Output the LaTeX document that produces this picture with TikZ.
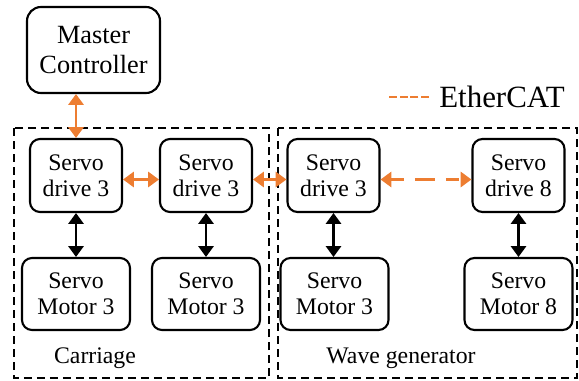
\documentclass[tikz,border=0pt]{standalone}
\usepackage{fontspec}
\setmainfont{Liberation Serif}
\usepackage{xcolor}
\definecolor{ecatorange}{RGB}{237,125,49}
\usetikzlibrary{arrows.meta,positioning}
\newcommand{\boxfont}{\fontsize{16.9pt}{18.5pt}\selectfont}
\newcommand{\ctrlfont}{\fontsize{18.7pt}{22pt}\selectfont}
\newcommand{\legendfont}{\fontsize{22pt}{26pt}\selectfont}
\tikzset{
    unitbox/.style={draw, line width=1.5pt, align=center, rounded corners=0.25cm},
    drivebox/.style={unitbox, minimum width=2.3cm, minimum height=1.825cm},
    motorbox/.style={unitbox, minimum width=2.7cm, minimum height=1.8cm},
    groupbox/.style={draw, line width=1.4pt, dash pattern=on 0.2cm off 0.125cm},
    ecat/.style={ecatorange, line width=1.7pt, {Triangle[length=0.27cm,width=0.38cm]}-{Triangle[length=0.27cm,width=0.38cm]}},
    link/.style={black, line width=1.5pt, {Triangle[length=0.27cm,width=0.38cm]}-{Triangle[length=0.27cm,width=0.38cm]}}
}

\begin{document}
\begin{tikzpicture}
    \useasboundingbox (0,0) rectangle (14.475,-9.5);

    % Groups
    \draw[groupbox] (0.35,-3.2) rectangle (6.725,-9.45);
    \draw[groupbox] (6.95,-3.2) rectangle (14.425,-9.45);
    \node[font=\boxfont] (carr) at (2.375,-8.95) {Carriage};
    \node[font=\boxfont] (wave) at (10.025,-8.95) {Wave generator};

    % Master
    \node[unitbox, rounded corners=0.35cm, minimum width=3.325cm, minimum height=2.15cm,
        font=\ctrlfont] (mc) at (2.3375,-1.25) {Master\\Controller};

    % Drives
    \node[drivebox, font=\boxfont] (d1) at (1.9,-4.3875) {Servo\\drive 3};
    \node[drivebox, font=\boxfont] (d2) at (5.15,-4.3875) {Servo\\drive 3};
    \node[drivebox, font=\boxfont] (d3) at (8.3375,-4.3875) {Servo\\drive 3};
    \node[drivebox, font=\boxfont] (d8) at (12.9625,-4.3875) {Servo\\drive 8};

    % Motors
    \node[motorbox, font=\boxfont] (m1) at (1.9,-7.35) {Servo\\Motor 3};
    \node[motorbox, font=\boxfont] (m2) at (5.15,-7.35) {Servo\\Motor 3};
    \node[motorbox, font=\boxfont] (m3) at (8.3625,-7.35) {Servo\\Motor 3};
    \node[motorbox, font=\boxfont] (m8) at (12.9625,-7.35) {Servo\\Motor 8};

    % EtherCAT links
    \draw[ecat] (d1.north |- mc.south) -- (d1.north);
    \draw[ecat] ([yshift=-0.1cm]d1.east) -- ([yshift=-0.1cm]d2.west);
    \draw[ecat] ([yshift=-0.1cm]d2.east) -- ([yshift=-0.1cm]d3.west);
    \draw[ecat, dash pattern=on 0.33cm off 0.275cm on 0.5cm off 0.275cm]
        ([yshift=-0.1cm]d3.east) -- ([yshift=-0.1cm]d8.west);

    % Drive to motor
    \foreach \d/\m in {d1/m1, d2/m2, d3/m3, d8/m8}
        \draw[link] (\d.south) -- (\d.south |- \m.north);

    % Legend
    \node[font=\legendfont, inner sep=0pt, anchor=west] (lgd) at (10.975,-2.425) {EtherCAT};
    \draw[ecatorange, line width=1.4pt, dash pattern=on 0.2cm off 0.067cm]
        ([xshift=-0.25cm]lgd.west) -- ++(-1cm,0);
\end{tikzpicture}
\end{document}
